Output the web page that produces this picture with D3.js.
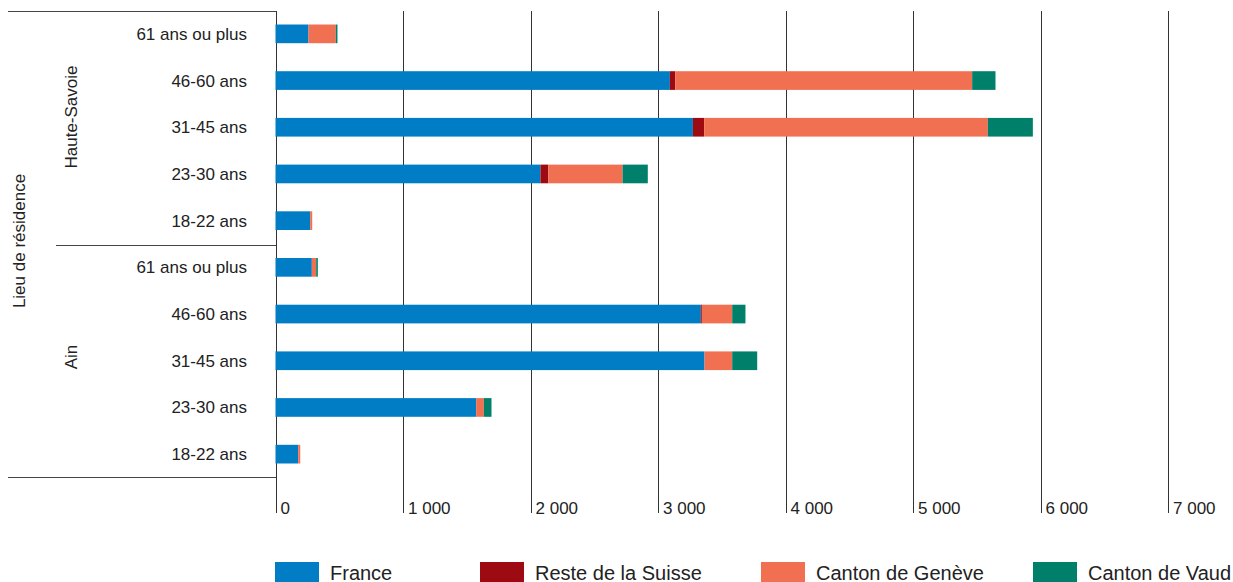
<!DOCTYPE html>
<html>
<head>
<meta charset="utf-8">
<script src="https://cdn.jsdelivr.net/npm/d3@7"></script>
<style>
  html, body { margin: 0; padding: 0; background: #fff; }
  svg { display: block; font-family: "Liberation Sans", Arial, sans-serif; }
</style>
</head>
<body>
<svg id="chart" width="1233" height="582"></svg>
<script>
// ---- data ----
const regions = ["Haute-Savoie", "Ain"];
const ageGroups = ["61 ans ou plus", "46-60 ans", "31-45 ans", "23-30 ans", "18-22 ans"];
const seriesNames = ["France", "Reste de la Suisse", "Canton de Genève", "Canton de Vaud"];
// rows: Haute-Savoie (61+ .. 18-22), then Ain (61+ .. 18-22)
const franceValues  = [259, 3093, 3274, 2078, 272, 285, 3336, 3365, 1574, 178];
const resteValues   = [0, 42, 88, 61, 0, 0, 8, 0, 0, 0];
const geneveValues  = [214, 2329, 2225, 583, 16, 34, 238, 217, 60, 16];
const vaudValues    = [13, 183, 353, 198, 0, 13, 104, 196, 60, 0];
const xTicks = [0, 1000, 2000, 3000, 4000, 5000, 6000, 7000];
const axisTitle = "Lieu de résidence";

// ---- styles / layout ----
const colors = ["#007dc5", "#9e0a12", "#f27052", "#00806b"];
const legendX = [275, 480, 761, 1033];
const regionLabelY = [117, 357];

const rows = [];
regions.forEach((r, ri) => ageGroups.forEach((a, ai) => {
  const i = ri * ageGroups.length + ai;
  rows.push({ key: r + "|" + a, region: r, age: a,
    "France": franceValues[i], "Reste de la Suisse": resteValues[i],
    "Canton de Genève": geneveValues[i], "Canton de Vaud": vaudValues[i] });
}));

const svg = d3.select("#chart");
const x = d3.scaleLinear().domain([0, 7000]).range([275.5, 1168]);
const y = d3.scaleBand().domain(rows.map(d => d.key)).range([10.5, 477.5])
  .paddingInner(0.6).paddingOuter(0.3);
const crisp = v => Math.round(v) + 0.5;
const fmt = d3.formatLocale({ decimal: ",", thousands: " ", grouping: [3], currency: ["", " €"] }).format(",d");

// gridlines + tick labels
const g = svg.append("g");
g.selectAll("line.grid").data(xTicks).join("line")
  .attr("x1", d => crisp(x(d))).attr("x2", d => crisp(x(d)))
  .attr("y1", 11).attr("y2", 513)
  .attr("stroke", "#333").attr("stroke-width", 1);
g.selectAll("text.tick").data(xTicks).join("text")
  .attr("x", d => x(d) + 5).attr("y", 514)
  .attr("font-size", 17).attr("fill", "#222")
  .text(d => fmt(d));

// stacked bars
const stack = d3.stack().keys(seriesNames)(rows);
svg.append("g").selectAll("g").data(stack).join("g")
  .attr("fill", (d, i) => colors[i])
  .selectAll("rect").data(d => d).join("rect")
  .attr("x", d => x(d[0]))
  .attr("width", d => Math.max(0, x(d[1]) - x(d[0])))
  .attr("y", d => y(d.data.key))
  .attr("height", y.bandwidth());

// left bracket lines
const lineCol = "#444";
svg.append("line").attr("x1", 8).attr("x2", 276).attr("y1", 11.5).attr("y2", 11.5).attr("stroke", lineCol);
svg.append("line").attr("x1", 56).attr("x2", 276).attr("y1", 245.5).attr("y2", 245.5).attr("stroke", lineCol);
svg.append("line").attr("x1", 8).attr("x2", 276).attr("y1", 477.5).attr("y2", 477.5).attr("stroke", lineCol);

// category labels
svg.append("g").selectAll("text").data(rows).join("text")
  .attr("x", 247).attr("y", d => y(d.key) + y.bandwidth() / 2)
  .attr("dy", "0.35em").attr("text-anchor", "end")
  .attr("font-size", 17).attr("fill", "#222")
  .text(d => d.age);

// region labels
svg.append("g").selectAll("text").data(regions).join("text")
  .attr("transform", (d, i) => `translate(77,${regionLabelY[i]}) rotate(-90)`)
  .attr("text-anchor", "middle").attr("font-size", 17).attr("fill", "#222")
  .text(d => d);

svg.append("text").attr("transform", "translate(25,241) rotate(-90)")
  .attr("text-anchor", "middle").attr("font-size", 17).attr("fill", "#222")
  .text(axisTitle);

// legend
const lg = svg.append("g").selectAll("g").data(seriesNames).join("g")
  .attr("transform", (d, i) => `translate(${legendX[i]},0)`);
lg.append("rect").attr("x", 0).attr("y", 562).attr("width", 44).attr("height", 20)
  .attr("fill", (d, i) => colors[i]);
lg.append("text").attr("x", 55).attr("y", 579.5).attr("font-size", 20).attr("fill", "#222")
  .text(d => d);
</script>
</body>
</html>
